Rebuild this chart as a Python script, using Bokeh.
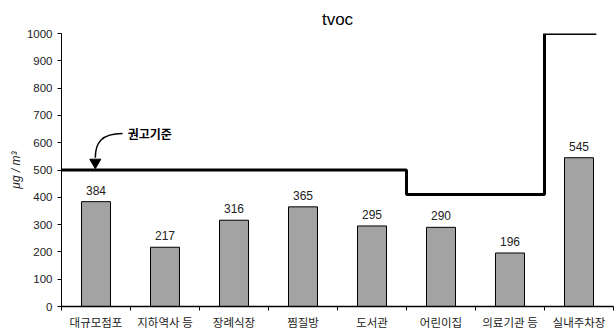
from bokeh.plotting import figure
from bokeh.models import FixedTicker, Range1d, ColumnDataSource
from bokeh.core.properties import value
from bokeh.embed import file_html
from bokeh.resources import INLINE

categories = ["대규모점포", "지하역사 등", "장례식장", "찜질방", "도서관", "어린이집", "의료기관 등", "실내주차장"]
values = [384, 217, 316, 365, 295, 290, 196, 545]
# recommended standard (step line) per category groups
std_x = [0, 5, 5, 7, 7, 7.75]
std_y = [500, 500, 410, 410, 1000, 1000]
y_ticks = [0, 100, 200, 300, 400, 500, 600, 700, 800, 900, 1000]

n = len(categories)
centers = [i + 0.5 for i in range(n)]
bounds = [float(i) for i in range(n + 1)]

p = figure(width=615, height=333, output_backend="svg", toolbar_location=None,
           x_range=Range1d(0, n), y_range=Range1d(0, 1000),
           min_border_left=61, min_border_right=2, min_border_top=33, min_border_bottom=27)
p.outline_line_color = None
p.xgrid.visible = False
p.ygrid.visible = False
p.background_fill_color = "white"
p.border_fill_color = "white"

p.title.text = "tvoc"
p.title.align = "center"
p.title.text_font = "Liberation Sans"
p.title.text_font_size = "17px"
p.title.text_font_style = "normal"
p.title.text_color = "black"

src = ColumnDataSource(dict(x=centers, top=values, lab=[str(v) for v in values]))
p.vbar(x="x", top="top", width=0.42, source=src, fill_color="#a3a3a3", line_color="black", line_width=1)
p.text(x="x", y="top", text="lab", source=src, text_align="center", text_baseline="bottom",
       y_offset=-7, text_font=value("Liberation Sans"), text_font_size="12px", text_color="#222222")

p.line(std_x, std_y, line_color="black", line_width=3)

# annotation
p.bezier(x0=[0.885], y0=[634], x1=[0.49], y1=[545], cx0=[0.58], cy0=[634], cx1=[0.49], cy1=[600],
         line_color="black", line_width=1.5)
p.scatter(x=[0.49], y=[528], marker="inverted_triangle", size=11, fill_color="black", line_color="black")
p.text(x=[0.96], y=[634], text=["권고기준"], text_align="left", text_baseline="middle",
       text_font=value("Noto Sans CJK KR"), text_font_size="12px", text_font_style="bold", text_color="black")

# axes
p.xaxis.ticker = FixedTicker(ticks=centers, minor_ticks=bounds)
p.xaxis.major_label_overrides = {c: lab for c, lab in zip(centers, categories)}
p.xaxis.major_tick_out = 0
p.xaxis.major_tick_in = 0
p.xaxis.minor_tick_out = 4
p.xaxis.minor_tick_in = 0
p.xaxis.major_label_standoff = 3
p.xaxis.major_label_text_font = "Noto Sans CJK KR"
p.xaxis.major_label_text_font_size = "11.5px"
p.xaxis.major_label_text_color = "#222222"
p.xaxis.axis_line_color = "black"
p.xaxis.axis_line_width = 1.5

p.yaxis.ticker = FixedTicker(ticks=y_ticks)
p.yaxis.minor_tick_line_color = None
p.yaxis.major_tick_out = 4
p.yaxis.major_tick_in = 0
p.yaxis.major_label_text_font = "Liberation Sans"
p.yaxis.major_label_text_font_size = "11.5px"
p.yaxis.major_label_text_color = "#222222"
p.yaxis.axis_label = "μg / m³"
p.yaxis.axis_label_text_font = "Liberation Sans"
p.yaxis.axis_label_text_font_size = "12px"
p.yaxis.axis_label_text_font_style = "italic"
p.yaxis.axis_label_text_color = "#222222"
p.yaxis.axis_label_standoff = 1
p.yaxis.axis_line_color = "black"

open("out.html", "w").write(file_html(p, INLINE))
